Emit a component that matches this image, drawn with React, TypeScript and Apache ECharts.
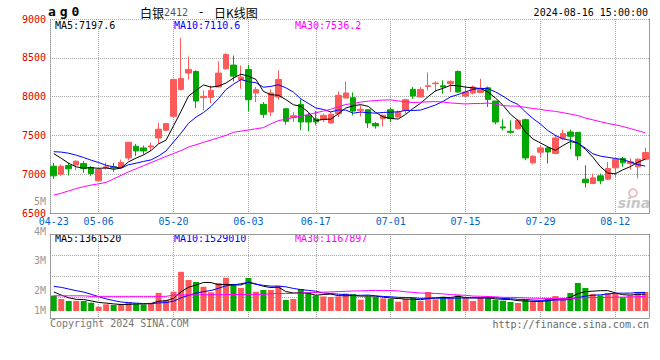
import React, { useEffect, useRef } from 'react';
import * as echarts from 'echarts';

// ---------- data ----------
const dates = [
  '04-23','04-24','04-25','04-26','04-29','04-30',
  '05-06','05-07','05-08','05-09','05-10','05-13','05-14','05-15','05-16','05-17',
  '05-20','05-21','05-22','05-23','05-24','05-27','05-28','05-29','05-30','05-31',
  '06-03','06-04','06-05','06-06','06-07','06-11','06-12','06-13','06-14',
  '06-17','06-18','06-19','06-20','06-21','06-24','06-25','06-26','06-27','06-28',
  '07-01','07-02','07-03','07-04','07-05','07-08','07-09','07-10','07-11','07-12',
  '07-15','07-16','07-17','07-18','07-19','07-22','07-23','07-24','07-25','07-26',
  '07-29','07-30','07-31','08-01','08-02','08-05','08-06','08-07','08-08','08-09',
  '08-12','08-13','08-14','08-15','08-16',
];
const shownDates = ['04-23','05-06','05-20','06-03','06-17','07-01','07-15','07-29','08-12'];

const opens = [
  7103,7000,7112,7120,7137,7086,6915,7082,7095,7086,
  7210,7360,7339,7352,7467,7566,7746,8093,8303,8324,
  7986,7990,8123,8359,8406,8217,8350,8046,7900,7802,
  7994,7844,7729,7900,7759,7712,7703,7660,7780,7981,
  7986,7823,7831,7652,7716,7831,7737,7823,8093,7994,
  8131,8166,8140,8166,8324,8007,8046,8054,8114,7943,
  7609,7553,7587,7703,7146,7283,7339,7266,7459,7544,
  7540,6936,6880,6979,6936,7082,7202,7137,7095,7193,
];
const closes = [
  6979,7103,7069,7167,7073,7009,7060,7095,7082,7150,
  7412,7300,7300,7365,7579,7652,8221,8234,8350,7943,
  8003,8080,8303,8543,8264,8251,7960,8089,7772,8046,
  8221,7682,7754,7673,7673,7673,7759,7772,8016,8046,
  7814,7835,7660,7622,7759,7716,7797,7960,8007,8093,
  8140,8174,8123,8196,8059,8059,8123,8089,7964,7673,
  7596,7540,7694,7210,7231,7339,7287,7467,7523,7489,
  7236,6893,6953,6915,7073,7193,7146,7159,7193,7279,
];
const highs = [
  7146,7125,7146,7180,7172,7103,7073,7150,7146,7189,
  7412,7390,7369,7407,7664,7660,8230,8757,8517,8337,
  8080,8144,8453,8560,8530,8401,8410,8123,7930,8093,
  8337,7844,7801,7964,7789,7814,7780,7801,8067,8196,
  8054,7887,7831,7673,7767,7857,7823,7973,8123,8123,
  8311,8196,8209,8209,8337,8144,8144,8230,8131,7943,
  7707,7694,7703,7716,7244,7369,7352,7510,7574,7574,
  7540,7116,7009,7009,7159,7202,7223,7202,7202,7343,
];
const lows = [
  6940,6979,6983,7052,7017,6979,6902,7060,7030,7073,
  7180,7236,7257,7300,7394,7553,7729,8080,8221,7853,
  7823,7917,8123,8346,8196,8101,7810,7930,7724,7746,
  7960,7639,7673,7566,7553,7630,7673,7652,7737,7981,
  7759,7746,7596,7587,7617,7673,7729,7780,7973,7994,
  8080,8059,8037,8059,8050,7994,8029,8050,7866,7643,
  7566,7523,7574,7180,7129,7223,7137,7257,7437,7322,
  7180,6829,6872,6872,6923,6966,7095,7060,6945,7180,
];
const volumes = [
  1400000,1090000,910000,920000,910000,760000,390000,610000,550000,640000,
  800000,640000,600000,740000,1650000,1020000,1750000,3560000,2820000,2640000,
  2200000,1700000,2550000,3020000,2460000,2100000,3000000,1750000,1910000,1910000,
  2280000,1000000,1090000,2000000,1680000,1400000,1320000,1270000,1330000,1580000,
  1550000,1030000,1330000,1270000,1150000,1090000,850000,1090000,1180000,910000,
  1730000,1060000,1300000,1150000,1420000,1180000,910000,1240000,1180000,1030000,
  940000,820000,730000,1030000,880000,880000,1150000,1360000,1180000,1640000,
  2550000,2090000,1550000,1420000,1640000,1550000,1240000,1420000,1730000,1730000,
];

const ma5Lead = [7265, 7205, 7140, 7095];
const ma10Lead = [7290, 7285, 7270, 7245, 7215, 7180, 7150, 7115, 7095];
const ma30Lead = [
  6730,6755,6785,6815,6840,6860,6875,6895,6940,6985,
  7030,7070,7110,7150,7190,7230,7266,7305,7350,7380,
  7410,7440,7470,7500,7540,7555,7570,7585,7600,
];
const volMa5Lead = [1730000, 1450000, 1200000, 1060000];
const volMa10Lead = [2240000, 2150000, 2000000, 1850000, 1720000, 1520000, 1300000, 1100000, 950000];
const volMa30Lead = [
  1380000,1380000,1380000,1380000,1380000,1330000,1330000,1330000,1330000,1330000,
  1330000,1330000,1330000,1330000,1330000,1330000,1450000,1460000,1470000,1470000,
  1480000,1480000,1490000,1490000,1500000,1500000,1510000,1510000,1520000,
];

const priceMin = 6500;
const priceMax = 9000;
const priceStep = 500;
const volAxisLabels = ['5M', '4M', '3M', '2M', '1M'];
const priceMaTexts = ['MA5:7197.6', 'MA10:7110.6', 'MA30:7536.2'];
const volMaTexts = ['MA5:1361520', 'MA10:1529010', 'MA30:1167897'];
const headerCode = ['a', 'g', '0'];
const timeStamp = '2024-08-16 15:00:00';

// ---------- helpers ----------
function movingAverage(vals: number[], n: number, lead: number[]) {
  return vals.map((_, i) => {
    if (i < n - 1) return lead[i];
    let s = 0;
    for (let k = i - n + 1; k <= i; k++) s += vals[k];
    return Math.round((s / n) * 10) / 10;
  });
}

const RED = '#ff5a5a';
const GREEN = '#00a800';
const MONO = '"DejaVu Sans Mono", "Liberation Mono", monospace';
const CJK = '"Noto Sans CJK SC", sans-serif';
const GRIDC = '#a8a8a8';
const BORDER = '#999';

const gridIdx = shownDates.slice(1).map((d) => dates.indexOf(d));
const labelIdx = shownDates.map((d) => dates.indexOf(d));

export default function App() {
  const ref = useRef<HTMLDivElement>(null);
  useEffect(() => {
    const chart = echarts.init(ref.current!, null, { renderer: 'svg' });
    const candle = dates.map((_, i) => [opens[i], closes[i], lows[i], highs[i]]);
    const volData = volumes.map((v, i) => ({
      value: v,
      itemStyle: { color: closes[i] >= opens[i] ? RED : GREEN },
    }));
    const line = (name: string, data: number[], color: string, xi: number, yi: number) => ({
      name, type: 'line', data, xAxisIndex: xi, yAxisIndex: yi, showSymbol: false, symbol: 'none',
      lineStyle: { color, width: 1 }, z: 5, silent: true,
    });
    const maColors = ['#000000', '#0000ff', '#ff00ff'];
    const maXs = [55, 174, 295];
    const graphic: any[] = [
      {
        type: 'text', x: 48, y: 11,
        style: {
          text: headerCode.map((c) => `{c|${c}}`).join(''),
          rich: { c: { width: 11.7, fontSize: 13, fontWeight: 'bold', fontFamily: MONO, fill: '#000' } },
          textVerticalAlign: 'middle',
        },
      },
      {
        type: 'text', x: 140, y: 12,
        style: {
          text: '{n|白银}{d|2412}{s|-}{n|日K线图}',
          rich: {
            n: { fontSize: 12, fontFamily: CJK, fill: '#000' },
            d: { fontSize: 10, fontFamily: MONO, fill: '#555' },
            s: { fontSize: 12, fontFamily: MONO, fill: '#000', width: 26, align: 'center' },
          },
          textVerticalAlign: 'middle',
        },
      },
      {
        type: 'text', x: 648, y: 12,
        style: { text: timeStamp, font: `10px ${MONO}`, fill: '#000', textAlign: 'right', textVerticalAlign: 'middle' },
      },
      {
        type: 'text', x: 50, y: 323,
        style: { text: 'Copyright 2024 SINA.COM', font: `10px ${MONO}`, fill: '#777', textVerticalAlign: 'middle' },
      },
      {
        type: 'text', x: 649, y: 324,
        style: { text: 'http://finance.sina.com.cn', font: `10px ${MONO}`, fill: '#666', textAlign: 'right', textVerticalAlign: 'middle' },
      },
      {
        type: 'circle', shape: { cx: 633, cy: 193, r: 4 },
        style: { fill: 'none', stroke: 'rgba(220,120,120,0.45)', lineWidth: 2 },
      },
      {
        type: 'text', x: 634, y: 203,
        style: { text: 'sina', font: `italic bold 14px "DejaVu Sans", sans-serif`, fill: 'rgba(150,150,150,0.55)', textAlign: 'center', textVerticalAlign: 'middle' },
      },
    ];
    priceMaTexts.forEach((t, i) => graphic.push({
      type: 'text', x: maXs[i], y: 25,
      style: { text: t, font: `10px ${MONO}`, fill: maColors[i], textVerticalAlign: 'middle' },
    }));
    volMaTexts.forEach((t, i) => graphic.push({
      type: 'text', x: maXs[i], y: 238.7,
      style: { text: t, font: `10px ${MONO}`, fill: maColors[i], textVerticalAlign: 'middle' },
    }));
    const volLabelY = [201, 231, 260.7, 290.7, 310.7];
    volAxisLabels.forEach((t, i) => graphic.push({
      type: 'text', x: 46, y: volLabelY[i],
      style: { text: t, font: `10px ${MONO}`, fill: '#999', textAlign: 'right', textVerticalAlign: 'middle' },
    }));

    const splitInterval = (i: number) => gridIdx.includes(i);
    const dotted = { color: GRIDC, type: [1, 1], width: 1 };

    const option: any = {
      animation: false,
      backgroundColor: '#ffffff',
      grid: [
        { left: 50, top: 19, width: 599, height: 194 },
        { left: 50, top: 234, width: 599, height: 84 },
      ],
      xAxis: [
        {
          type: 'category', gridIndex: 0, data: dates, boundaryGap: true,
          axisLine: { show: true, onZero: false, lineStyle: { color: BORDER, width: 1 } },
          axisTick: { show: false },
          axisLabel: {
            interval: (i: number) => labelIdx.includes(i),
            color: '#0066cc', fontFamily: MONO, fontSize: 10, margin: 3,
          },
          splitLine: { show: true, interval: splitInterval, alignWithLabel: true, lineStyle: dotted },
        },
        {
          type: 'category', gridIndex: 1, data: dates, boundaryGap: true,
          axisLine: { show: true, onZero: false, lineStyle: { color: BORDER, width: 1 } },
          axisTick: { show: false }, axisLabel: { show: false },
          splitLine: { show: true, interval: splitInterval, alignWithLabel: true, lineStyle: dotted },
        },
        {
          type: 'category', gridIndex: 1, data: dates, position: 'top', boundaryGap: true,
          axisLine: { show: true, onZero: false, lineStyle: { color: BORDER, width: 1 } },
          axisTick: { show: false }, axisLabel: { show: false }, splitLine: { show: false },
        },
      ],
      yAxis: [
        {
          type: 'value', gridIndex: 0, min: priceMin, max: priceMax, interval: priceStep, position: 'left',
          axisLine: { show: true, lineStyle: { color: BORDER, type: [1, 1] } },
          axisTick: { show: false },
          axisLabel: {
            color: '#e00000', fontFamily: MONO, fontSize: 10, margin: 4,
            verticalAlign: 'middle', padding: [0, 0, 4, 0],
            formatter: (v: number) => String(v),
          },
          splitLine: { show: true, lineStyle: dotted },
        },
        {
          type: 'value', gridIndex: 0, min: priceMin, max: priceMax, position: 'right',
          axisLine: { show: true, lineStyle: { color: BORDER } },
          axisTick: { show: false }, axisLabel: { show: false }, splitLine: { show: false },
        },
        {
          type: 'value', gridIndex: 1, min: 0, max: 4, interval: 1, position: 'left',
          axisLine: { show: true, lineStyle: { color: BORDER } },
          axisTick: { show: false }, axisLabel: { show: false },
          splitLine: { show: true, lineStyle: dotted },
        },
        {
          type: 'value', gridIndex: 1, min: 0, max: 4, position: 'right',
          axisLine: { show: true, lineStyle: { color: BORDER } },
          axisTick: { show: false }, axisLabel: { show: false }, splitLine: { show: false },
        },
        {
          type: 'value', gridIndex: 1, min: -636000, max: 7000000, show: false,
          splitLine: { show: false },
        },
      ],
      series: [
        {
          type: 'candlestick', xAxisIndex: 0, yAxisIndex: 0, data: candle, barWidth: 6,
          itemStyle: { color: RED, color0: GREEN, borderColor: RED, borderColor0: GREEN, borderWidth: 1 },
          silent: true,
        },
        line('MA5', movingAverage(closes, 5, ma5Lead), maColors[0], 0, 0),
        line('MA10', movingAverage(closes, 10, ma10Lead), maColors[1], 0, 0),
        line('MA30', movingAverage(closes, 30, ma30Lead), maColors[2], 0, 0),
        {
          type: 'bar', xAxisIndex: 1, yAxisIndex: 4, data: volData, barWidth: 6, silent: true,
        },
        line('VMA5', movingAverage(volumes, 5, volMa5Lead), maColors[0], 1, 4),
        line('VMA10', movingAverage(volumes, 10, volMa10Lead), maColors[1], 1, 4),
        line('VMA30', movingAverage(volumes, 30, volMa30Lead), maColors[2], 1, 4),
      ],
      graphic,
    };
    chart.setOption(option);
    return () => chart.dispose();
  }, []);
  return <div ref={ref} style={{ position: 'fixed', left: 0, top: 0, width: 660, height: 360 }} />;
}
